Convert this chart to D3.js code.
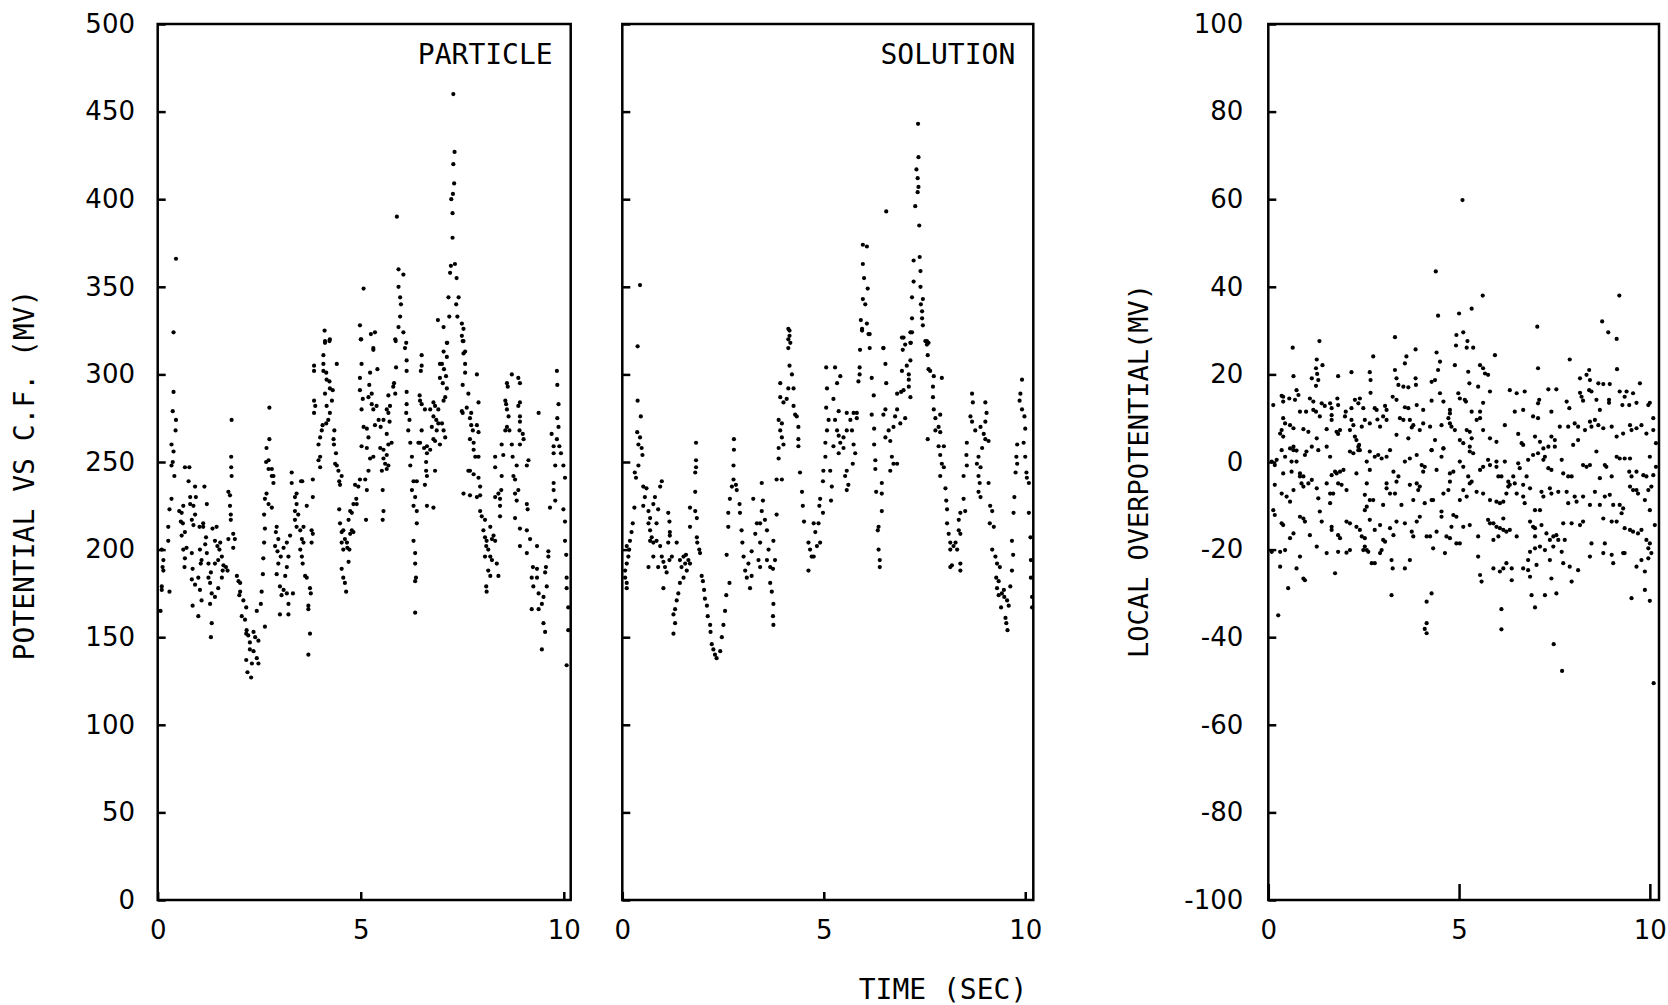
<!DOCTYPE html>
<html>
<head>
<meta charset="utf-8">
<script src="https://cdn.jsdelivr.net/npm/d3@7"></script>
<style>
  body { margin: 0; background: #fff; }
  .frame { fill: none; stroke: #000; stroke-width: 2.5; }
  .tick line { stroke: #000; stroke-width: 2.5; }
  .tick text { font-family: "DejaVu Sans", sans-serif; font-size: 26px; fill: #000; }
  .label { font-family: "DejaVu Sans Mono", monospace; font-size: 28px; fill: #000; }
  .dot { fill: #000; }
</style>
</head>
<body>
<div class="container"></div>
<script>
const WIDTH = 1668;
const HEIGHT = 1005;
const TOP = 24;
const BOTTOM = 900;

var potentialTicks = [0, 50, 100, 150, 200, 250, 300, 350, 400, 450, 500];
var overpotTicks = [-100, -80, -60, -40, -20, 0, 20, 40, 60, 80, 100];
var timeTicks = [0, 5, 10];

// [time (s), potential vs C.F. (mV)]
var particlePts = [
  [7.28,460],[7.31,427],[7.28,420],[7.30,409],[7.27,403],[7.23,400],[7.26,392],[7.26,378],[7.22,362],[7.32,363],[7.20,358],[7.36,355],[7.16,344],[7.41,344],[7.35,340],[7.18,333],[7.38,333],[6.90,331],[7.04,327],[7.49,329],[7.53,326],[7.12,318],[7.53,319],
  [5.89,390],[5.93,360],[6.05,357],[5.93,350],[5.97,344],[5.99,340],[5.97,333],[5.93,327],[6.05,324],[5.86,319],[6.09,315],
  [5.07,349],[4.98,328],[5.25,323],[5.35,324],[5.01,320],[4.11,325],[4.12,318],[4.23,319],[5.31,315],[0.45,366],[0.39,324],
  [0.14,194],[0.14,188],[0.12,190],[0.10,200],[0.10,177],[0.29,176],[0.07,165],[0.26,205],[0.10,179],
  [0.39,290],[0.37,279],[0.45,274],[0.44,268],[0.34,260],[0.39,256],[0.34,248],[0.37,250],[0.41,242],[0.34,229],[0.29,223],[0.26,213],
  [0.53,222],[0.59,221],[0.57,216],[0.62,215],[0.67,210],[0.59,208],[0.63,225],[0.78,247],[0.67,247],[0.76,239],[0.80,230],[0.80,226],[0.88,225],[0.84,217],[0.88,214],[0.63,200],[0.71,201],[0.67,195],[0.84,198],[0.66,190],[0.86,189],[0.84,183],
  [0.92,236],[0.94,230],[0.92,220],[1.03,213],[1.12,215],[1.15,236],[1.12,213],[1.04,200],[1.08,194],[1.06,192],[1.00,184],[0.92,180],[1.04,177],[1.08,171],[0.86,168],[1.00,162],
  [1.21,226],[1.19,207],[1.17,203],[1.21,198],[1.25,192],[1.31,187],[1.25,184],[1.29,181],[1.33,175],[1.29,169],[1.33,158],[1.31,150],[1.35,212],[1.41,205],[1.45,213],[1.47,202],[1.54,204],[1.52,200],[1.58,196],[1.49,194],[1.41,192],[1.60,188],[1.58,184],[1.49,178],[1.41,173],[1.62,191],[1.68,190],[1.72,188],
  [1.74,233],[1.78,231],[1.78,225],[1.80,220],[1.80,217],[1.81,253],[1.81,247],[1.82,242],[1.82,274],[1.74,206],[1.90,206],[1.86,209],[1.86,201],
  [1.95,185],[1.99,182],[2.03,181],[2.03,176],[2.01,174],[2.11,171],[2.18,167],[2.07,162],[2.15,160],[2.19,154],[2.18,152],[2.23,151],[2.36,153],[2.40,150],[2.27,147],[2.27,143],[2.36,142],[2.18,137],[2.32,135],[2.44,138],[2.48,135],[2.21,130],[2.30,127],[2.48,148],
  [2.64,156],[2.54,169],[2.44,165],[2.56,176],[2.59,186],[2.60,195],[2.62,204],[2.64,212],[2.62,220],[2.64,229],[2.73,246],[2.73,251],[2.68,258],[2.75,263],[2.75,281],[2.67,250],[2.81,246],[2.81,242],[2.85,238],[2.68,232],[2.73,226],[2.81,224],[2.85,242],
  [2.93,213],[2.91,210],[2.97,206],[2.89,202],[2.95,199],[3.03,196],[2.97,192],[2.93,186],[3.14,185],[3.18,190],[3.22,196],[3.10,201],[3.18,204],[3.26,208],[3.01,179],[3.10,177],[3.05,174],[3.18,175],[3.01,163],[3.22,163],
  [3.30,244],[3.30,238],[3.38,230],[3.42,232],[3.42,226],[3.38,222],[3.46,220],[3.38,217],[3.42,213],[3.51,211],[3.59,213],[3.55,206],[3.59,204],[3.51,200],[3.55,196],[3.57,192],[3.63,185],[3.67,184],[3.75,178],[3.77,175],[3.71,168],[3.71,166],[3.75,152],[3.71,140],[3.33,175],[3.22,169],[3.53,239],[3.56,239],[3.67,225],[3.79,211],[3.82,209],[3.79,204],[3.82,240],[3.82,230],
  [3.85,305],[3.85,302],[3.85,285],[3.88,282],[3.85,278],[4.08,311],[4.08,306],[4.08,302],[4.15,301],[4.16,297],[4.23,296],[4.24,292],[4.31,291],[4.12,289],[4.29,285],[4.16,282],[4.24,278],[4.20,274],[4.15,272],[4.04,268],[4.06,271],[4.00,264],[3.96,260],[4.00,253],[4.00,247],[3.96,251],[4.12,319],[4.24,320],
  [4.35,268],[4.33,263],[4.34,260],[4.39,255],[4.37,249],[4.41,248],[4.45,245],[4.47,239],[4.49,237],[4.41,306],[4.53,242],
  [4.47,223],[4.49,215],[4.53,210],[4.57,211],[4.53,204],[4.61,206],[4.66,204],[4.57,200],[4.67,201],[4.72,200],[4.74,209],[4.78,211],[4.82,210],[4.78,221],[4.74,222],[4.70,217],[4.82,226],[4.90,226],[4.89,229],[4.94,236],[4.53,189],[4.57,184],[4.61,181],[4.64,176],[4.70,193],[4.86,237],[4.98,240],[5.11,240],[5.15,234],[5.13,217],
  [5.00,320],[5.02,306],[4.98,298],[4.98,291],[5.05,286],[5.02,280],[5.07,270],[5.15,269],[5.02,259],[5.15,258],[5.23,301],[5.21,294],[5.19,287],[5.27,289],[5.27,283],[5.31,280],[5.19,264],[5.23,252],[5.31,253],[5.35,271],[5.41,303],[5.39,282],[5.44,274],[5.49,270],[5.48,258],[5.56,257],[5.56,252],[5.64,254],[5.68,260],[5.76,261],[5.60,249],[5.64,246],[5.68,248],[5.52,245],[5.31,314],[5.19,245],[5.64,280],[5.68,278],[5.72,282],[5.64,266],[5.71,273],[5.68,288],[5.56,274],[5.54,234],[5.56,222],[5.54,217],
  [5.85,320],[5.87,304],[5.82,295],[5.85,289],[5.80,293],[6.12,318],[6.13,308],[6.13,302],[6.13,290],[6.13,283],[6.12,278],[6.20,274],[6.17,268],[6.22,261],[6.26,253],[6.22,248],[6.30,239],[6.38,239],[6.26,234],[6.34,230],[6.30,225],[6.38,222],[6.38,215],[6.30,205],[6.34,198],[6.34,192],[6.36,184],[6.34,182],[6.34,164],[6.46,261],[6.50,268],
  [6.50,311],[6.50,305],[6.48,302],[6.45,288],[6.46,285],[6.50,283],[6.58,280],[6.42,261],[6.56,258],[6.63,259],[6.63,255],[6.71,257],[6.61,250],[6.61,245],[6.63,242],[6.58,237],[6.63,225],[6.79,224],[6.71,280],[6.79,276],[6.86,274],[6.83,282],[6.91,280],[6.91,272],[6.87,268],[6.79,263],[6.83,262],[6.83,245],[6.75,270],[7.00,272],[7.04,268],[6.95,260],[7.08,264],[7.08,287],[7.04,285],[6.95,298],[7.02,295],[6.95,306],[7.04,313],[7.13,318],[7.12,310],[7.05,303],[7.12,292],[7.10,299],[6.79,284],[7.00,306],
  [7.49,322],[7.51,319],[7.57,313],[7.53,312],[7.57,306],[7.57,301],[7.51,294],[7.49,279],[7.51,278],[7.61,281],[7.65,289],[7.72,278],[7.69,275],[7.72,271],[7.76,268],[7.69,263],[7.78,261],[7.86,300],[7.90,284],[7.86,271],[7.90,267],[7.78,257],[7.82,253],[7.90,253],[7.65,245],[7.69,245],[7.78,243],[7.90,241],[7.94,236],[7.94,231],[7.53,232],[7.69,231],[7.86,230],
  [7.94,222],[7.98,219],[8.06,217],[8.02,211],[8.06,207],[8.10,205],[8.09,202],[8.06,196],[8.14,200],[8.19,213],[8.23,206],[8.27,208],[8.31,205],[8.19,196],[8.23,194],[8.14,188],[8.19,185],[8.39,185],[8.09,179],[8.10,176],[8.35,192],
  [8.31,230],[8.39,232],[8.43,229],[8.46,234],[8.47,242],[8.31,247],[8.31,253],[8.51,254],[8.43,225],[8.43,219],[8.47,260],[8.56,268],[8.60,270],[8.66,268],[8.64,276],[8.60,280],[8.58,283],[8.56,285],[8.60,295],[8.62,293],[8.72,300],[8.88,298],[8.92,295],[8.92,284],[8.88,282],[8.92,276],[8.92,273],[8.91,268],[8.99,266],[9.01,263],[8.92,260],[8.72,260],[8.74,253],[8.84,248],[8.76,242],[8.80,240],[8.80,232],[8.84,228],[8.88,234],[9.09,248],[9.13,251],[9.09,226],[9.11,223],[8.80,218],[8.92,212],[9.09,211],[9.17,206],[8.92,202],[9.09,198],[9.34,202],
  [9.24,190],[9.34,189],[9.21,184],[9.34,184],[9.25,179],[9.38,175],[9.50,173],[9.46,169],[9.21,166],[9.38,166],[9.50,158],[9.54,153],[9.46,143],[9.58,179],[9.62,196],[9.62,199],[9.56,190],[9.54,187],[9.38,278],
  [9.83,302],[9.84,294],[9.87,283],[9.84,275],[9.87,270],[9.70,266],[9.83,263],[9.75,259],[9.89,259],[9.93,255],[9.75,255],[9.79,248],[9.99,248],[10.03,241],[9.75,238],[9.75,234],[9.79,228],[9.66,224],[9.99,223],[10.03,216],[10.03,205],[10.06,197],[10.07,184],[10.07,178],[10.11,167],[10.11,154],[10.07,134]
];

// [time (s), potential vs C.F. (mV)]
var solutionPts = [
  [7.34,443],[7.35,424],[7.30,417],[7.33,412],[7.35,407],[7.33,404],[7.27,396],[7.37,385],[6.55,393],[5.97,374],[6.07,373],[5.97,363],[6.00,355],[6.09,349],[5.97,343],[6.03,340],[5.92,331],[6.07,329],[5.95,326],[6.14,323],[7.23,365],[7.38,367],[7.40,359],[7.23,353],[7.40,350],[7.19,344],[7.46,343],[7.41,340],[7.44,336],[7.19,332],[7.44,332],[7.46,328],[7.15,324],[6.94,321],[7.02,317],[7.15,318],[7.56,319],[7.60,318],[6.48,315],[0.44,351],[4.12,326],[4.15,322],[4.17,318],
  [0.38,316],[0.38,285],[0.46,276],[0.37,267],[0.44,264],[0.40,260],[0.48,258],[0.50,254],[0.40,248],[0.31,244],[0.34,241],[0.30,224],[0.26,215],[0.23,210],[0.19,205],[0.17,200],[0.11,202],[0.15,196],[0.11,192],[0.07,184],[0.11,181],[0.11,178],[0.07,188],
  [0.52,236],[0.60,235],[0.56,230],[0.52,225],[0.65,222],[0.77,226],[0.81,230],[0.94,236],[0.98,239],[0.89,223],[0.85,215],[0.69,218],[0.65,215],[0.69,211],[0.73,207],[0.69,205],[0.77,204],[0.85,205],[0.94,202],[0.98,196],
  [1.14,221],[1.17,216],[1.18,210],[1.18,208],[1.14,204],[1.02,193],[1.06,190],[1.10,187],[1.17,194],[1.23,196],[1.02,178],[0.89,190],[0.65,190],[0.77,196],
  [1.35,204],[1.43,194],[1.52,196],[1.58,197],[1.64,194],[1.56,192],[1.47,190],[1.60,188],[1.68,192],[1.52,184],[1.43,181],[1.39,175],[1.35,171],[1.31,166],[1.27,163],[1.31,158],[1.27,152],[1.68,224],[1.81,222],[1.68,213],[1.85,218],[1.81,233],[1.81,244],[1.83,247],[1.83,251],[1.83,261],
  [1.85,207],[1.86,204],[1.91,200],[1.93,198],[1.97,185],[2.00,182],[2.03,177],[2.05,172],[2.10,168],[2.12,162],[2.18,157],[2.19,153],[2.22,146],[2.26,143],[2.30,140],[2.34,138],[2.43,142],[2.47,150],[2.51,157],[2.55,165],[2.58,174],[2.66,181],[2.59,197],[2.63,213],[2.63,221],[2.67,229],[2.72,236],[2.76,240],[2.76,248],[2.77,257],[2.77,263],
  [2.82,237],[2.84,234],[2.91,226],[2.92,221],[2.96,211],[2.98,204],[3.01,196],[3.05,188],[3.09,184],[3.17,178],[3.13,192],[3.21,185],[3.21,199],[3.25,229],[3.34,215],[3.30,209],[3.42,215],[3.42,204],[3.38,194],[3.42,190],[3.46,238],[3.49,228],[3.46,222],[3.54,217],[3.59,211],[3.63,200],[3.59,194],[3.67,190],[3.74,189],[3.75,205],[3.79,194],[3.67,181],[3.71,176],[3.75,169],[3.74,162],[3.75,157],
  [3.83,220],[3.83,240],[3.96,240],[3.88,252],[3.88,258],[4.00,260],[3.92,268],[3.96,272],[3.88,274],[3.96,264],[3.92,287],[3.92,295],[4.00,284],
  [4.15,305],[4.12,315],[4.15,325],[4.12,320],[4.21,300],[4.12,292],[4.25,292],[4.08,286],[4.25,282],[4.29,277],[4.37,270],[4.37,263],[4.37,259],[4.33,276],[4.41,244],[4.46,233],[4.48,225],[4.51,216],[4.62,204],[4.66,200],[4.70,196],[4.62,188],[4.83,202],[4.91,204],[4.79,210],[4.87,215],[4.89,225],[4.98,221],[4.91,229],[4.75,196],[4.75,215],
  [5.06,304],[5.28,304],[5.08,292],[5.33,295],[5.41,299],[5.24,286],[5.06,281],[5.08,268],[5.12,274],[5.04,261],[5.04,253],[4.99,245],[4.98,239],[5.16,245],[5.20,236],[5.18,228],[5.37,279],[5.28,274],[5.33,268],[5.37,265],[5.41,261],[5.49,264],[5.57,268],[5.24,259],[5.37,255],[5.49,258],[5.57,278],[5.66,274],[5.70,268],[5.74,260],[5.78,255],[5.72,249],[5.74,278],[5.82,278],[5.82,275],[5.57,245],[5.53,242],[5.61,237],[5.57,234],
  [5.89,304],[5.89,300],[5.86,296],[5.90,314],[5.95,325],[6.11,323],[6.14,315],[6.19,298],[6.24,288],[6.19,277],[6.25,269],[6.25,260],[6.28,251],[6.28,246],[6.30,233],[6.44,232],[6.44,238],[6.44,222],[6.36,213],[6.34,211],[6.36,200],[6.39,194],[6.39,190],
  [6.48,315],[6.53,306],[6.55,295],[6.53,280],[6.48,277],[6.53,264],[6.61,268],[6.65,262],[6.69,253],[6.73,249],[6.82,249],[6.65,245],[6.73,270],[6.77,276],[6.82,280],[6.90,272],[7.02,275],[6.92,290],[6.82,289],[6.98,291],[7.11,293],[7.15,287],[7.11,297],[6.94,302],[7.06,305],[6.96,314],[6.98,321],[7.16,318],[7.19,324],[7.15,308],[7.11,300],
  [7.52,319],[7.56,317],[7.58,311],[7.60,303],[7.64,302],[7.73,299],[7.93,298],[7.71,293],[7.71,287],[7.58,263],[7.73,280],[7.77,275],[7.89,277],[7.85,270],[7.89,267],[7.77,268],[7.85,259],[7.98,259],[7.89,254],[7.93,249],[7.98,247],[7.89,242],[8.02,235],[8.04,228],[8.06,223],[8.06,215],[8.10,209],[8.14,204],[8.14,200],[8.18,191],[8.22,202],[8.31,200],[8.27,204],[8.35,211],[8.39,209],[8.39,192],[8.35,217],[8.39,221],[8.47,229],[8.51,222],[8.47,242],[8.55,248],[8.54,254],[8.55,261],[8.39,188],[8.14,190],
  [8.68,289],[8.70,284],[8.64,276],[8.68,273],[8.76,268],[8.89,270],[9.01,284],[9.04,278],[9.01,273],[8.97,266],[9.01,263],[9.09,262],[8.93,258],[8.84,253],[8.80,249],[8.89,247],[8.84,242],[8.87,238],[8.84,233],[8.89,230],[9.09,238],[9.13,225],[9.18,222],[9.12,215],[9.22,213],[9.18,200],[9.26,196],[9.30,192],[9.37,190],[9.28,184],[9.34,182],[9.30,178],[9.34,174],[9.42,175],[9.47,177],[9.48,173],[9.55,171],[9.59,168],[9.40,167],[9.51,161],[9.53,158],[9.56,154],[9.63,179],[9.67,188],[9.70,197],[9.67,205],[9.71,221],[9.73,230],[9.76,244],[9.80,249],[9.78,253],[9.80,260],[9.86,285],[9.88,289],[9.92,297],[9.92,280],[9.98,276],[10.00,269],[9.96,261],[10.00,253],[10.03,244],[10.04,241],[10.09,238],[10.09,221],[10.13,207],[10.14,194],[10.14,184],[10.17,173],[10.17,167]
];

// [time (s), local overpotential (mV)]
var overpotPts = [
  [5.09,59.8],[4.39,43.5],[5.62,38.0],[9.20,38.0],[4.45,33.4],[5.00,33.9],[5.33,35.0],[7.05,30.9],[8.75,32.1],[8.91,29.6],[9.13,28.1],[1.34,27.6],[3.32,28.5],[4.93,29.0],[5.11,29.6],[5.22,27.6],[4.92,26.6],[5.20,26.1],[5.37,26.1],[0.64,26.1],[3.86,25.7],
  [3.62,24.1],[2.75,24.1],[3.58,22.5],[4.41,25.0],[4.50,22.9],[4.45,21.0],[4.37,18.7],[4.28,18.3],[5.94,24.4],[7.90,23.4],[4.89,22.1],[5.55,22.1],[5.63,21.4],[5.68,20.2],[5.76,19.9],[5.24,20.6],[5.50,17.2],[5.27,17.96],[1.27,23.4],[1.42,22.1],[1.25,21.4],[1.28,20.1],[1.31,18.7],[1.14,19.1],[1.25,17.4],[0.66,19.6],[1.83,19.6],[2.18,20.5],[2.66,20.5],[2.68,18.7],[3.32,21.0],[3.36,19.1],[3.41,17.6],[3.54,17.2],[3.67,17.05],[3.86,19.1],[3.87,17.6],[7.07,21.4],[8.41,21.0],[8.34,19.9],[8.43,18.7],[8.17,19.1],[8.65,17.96],[8.78,17.8],[8.95,17.8],[9.14,21.2],[9.74,17.96],
  [0.35,15.1],[0.39,14.9],[0.39,13.8],[0.55,14.5],[0.70,14.2],[0.79,15.3],[0.74,16.4],[0.13,13.0],[1.09,14.5],[1.18,13.8],[1.40,13.4],[1.48,12.8],[1.62,13.4],[1.66,12.3],[1.81,14.5],[1.83,13.0],[0.99,11.5],[1.18,11.9],[1.25,11.5],[0.83,11.5],[2.03,11.5],[2.18,12.3],[2.27,14.2],[2.36,13.4],[2.40,14.5],[2.68,15.8],[2.49,12.3],[2.79,12.3],[2.84,11.9],[3.10,11.9],[3.06,12.8],[3.26,14.9],[3.36,14.2],[3.58,12.5],[3.67,12.3],[3.89,13.0],[4.06,11.9],[4.28,14.0],[4.50,15.7],[4.59,13.8],[4.76,11.9],[4.76,11.1],[4.98,15.7],[5.02,14.5],[5.15,14.2],[5.18,13.8],[5.33,11.5],[5.55,11.5],[5.63,13.5],[5.81,16.1],[6.33,16.4],[6.51,15.7],[6.72,16.1],[6.46,11.5],[6.68,11.9],[7.10,14.2],[7.07,13.4],[7.34,16.6],[7.55,16.6],[7.42,11.5],[7.82,13.8],[7.89,12.3],[8.21,14.9],[8.25,14.0],[8.17,15.8],[8.41,16.4],[8.47,16.1],[8.60,14.2],[8.69,11.9],[8.93,14.2],[8.93,13.5],[9.21,16.1],[9.39,16.1],[9.34,14.9],[9.28,13.0],[9.46,13.0],[9.56,15.7],[9.65,13.5],[9.96,13.0],[10.0,13.5],
  [0.39,10.0],[0.44,8.8],[0.35,7.3],[0.57,8.4],[0.66,7.7],[0.31,6.5],[0.39,5.8],[0.57,3.1],[0.66,3.5],[0.74,2.6],[0.92,7.5],[1.05,6.9],[1.27,5.4],[1.35,10.4],[1.53,7.5],[1.66,10.7],[1.66,9.6],[1.79,6.9],[1.88,7.3],[1.83,6.4],[2.01,10.4],[2.18,9.6],[2.23,8.4],[2.14,7.3],[2.27,5.8],[2.31,5.0],[2.38,3.9],[2.36,2.7],[2.45,8.07],[2.53,9.6],[2.66,8.8],[2.66,2.4],[2.86,9.7],[2.93,8.07],[3.01,10.4],[3.10,9.6],[3.36,6.2],[3.45,10.0],[3.54,9.6],[3.67,5.4],[3.71,9.6],[3.76,7.9],[3.80,8.4],[4.06,8.8],[3.97,7.3],[4.24,8.07],[4.28,2.7],[4.37,5.0],[4.54,8.4],[4.59,3.1],[4.72,10.0],[4.76,8.8],[4.80,8.07],[4.89,7.3],[5.02,5.0],[5.11,4.3],[5.20,7.3],[5.28,6.9],[5.33,5.4],[5.28,3.5],[5.46,9.6],[5.55,10.0],[5.63,7.3],[5.81,5.4],[5.98,4.6],[6.20,8.4],[6.55,6.4],[6.64,4.3],[6.68,3.9],[6.99,5.8],[7.07,10.0],[6.94,10.4],[7.12,4.6],[7.21,3.1],[7.34,3.5],[7.42,5.8],[7.51,5.0],[7.64,8.07],[7.86,8.07],[7.99,3.9],[8.12,5.0],[8.03,8.8],[8.12,8.07],[8.30,7.3],[8.43,9.2],[8.47,8.07],[8.56,9.6],[8.65,8.4],[8.78,7.7],[9.00,8.07],[9.13,5.8],[9.30,6.5],[9.52,7.3],[9.48,8.4],[9.65,7.7],[9.78,8.4],[9.91,6.5],[10.09,7.3],[10.16,4.3],[10.09,10.0],
  [0.09,0.1],[0.22,0.5],[0.17,-0.7],[0.44,1.2],[0.35,2.7],[0.66,2.7],[0.61,0.1],[0.74,0.1],[0.39,-2.6],[0.61,-2.2],[0.83,-2.6],[0.83,-3.3],[0.92,-3.3],[1.00,2.4],[1.14,3.5],[0.96,1.6],[1.31,2.7],[1.53,3.5],[1.62,1.2],[1.66,-3.0],[1.75,-2.2],[1.79,-2.6],[1.88,-2.2],[1.97,-1.8],[2.14,2.4],[2.23,2.0],[2.36,3.5],[2.40,2.7],[2.58,0.1],[2.66,-1.8],[2.79,1.2],[2.88,1.6],[2.97,0.8],[3.10,1.2],[3.19,2.7],[3.28,-2.2],[3.41,-3.3],[3.58,0.1],[3.71,0.8],[3.89,1.6],[4.02,-0.7],[4.10,-1.1],[4.06,-2.2],[4.28,2.7],[4.41,-1.8],[4.54,1.2],[4.59,3.1],[4.76,-2.6],[4.85,-2.2],[5.02,0.1],[5.11,-1.1],[5.24,-3.3],[5.28,2.4],[5.37,2.0],[5.55,-1.8],[5.63,-1.1],[5.76,0.5],[5.81,-0.7],[5.98,-1.1],[6.03,-3.3],[5.98,0.1],[6.20,0.1],[6.11,-3.3],[6.29,-4.5],[6.42,-3.3],[6.55,-0.3],[6.59,-1.4],[6.77,-3.3],[6.81,0.5],[6.94,1.6],[7.07,2.0],[7.21,0.5],[7.25,1.2],[7.34,-1.4],[7.42,-1.8],[7.51,3.5],[7.69,0.5],[7.73,-2.6],[7.86,-3.3],[7.95,-3.3],[8.25,-0.7],[8.34,-1.1],[8.43,-0.7],[8.60,2.4],[8.69,-3.7],[8.82,-0.7],[8.86,-1.1],[9.00,-3.3],[9.13,1.2],[9.21,0.8],[9.34,0.8],[9.48,0.8],[9.46,-2.2],[9.52,-3.3],[9.65,-2.2],[9.83,-3.0],[9.91,-3.3],[10.0,1.2],[10.09,-3.0],[10.16,-1.1],
  [0.17,-5.2],[0.35,-7.2],[0.48,-7.9],[0.57,-9.05],[0.66,-6.4],[0.87,-4.9],[0.92,-5.6],[1.05,-4.9],[1.14,-4.1],[1.27,-6.0],[1.31,-8.3],[1.53,-4.9],[1.62,-7.2],[1.62,-9.4],[1.70,-7.2],[1.83,-4.9],[1.92,-5.2],[2.05,-6.4],[2.31,-2.6],[2.58,-4.9],[2.53,-7.5],[2.58,-10.2],[2.53,-11.0],[2.66,-8.7],[2.75,-8.7],[3.01,-9.8],[3.10,-4.9],[3.10,-6.0],[3.19,-7.2],[3.32,-7.2],[3.49,-9.8],[3.36,-4.5],[3.71,-5.2],[3.80,-8.7],[3.89,-4.9],[3.93,-6.4],[3.97,-5.6],[4.10,-9.4],[4.28,-8.7],[4.32,-8.7],[4.54,-11.3],[4.59,-7.2],[4.72,-6.4],[4.76,-4.5],[5.02,-8.7],[5.11,-6.4],[5.20,-7.9],[5.28,-4.9],[5.33,-4.5],[5.46,-6.8],[5.63,-7.2],[5.81,-8.7],[5.98,-9.05],[6.07,-9.4],[6.16,-9.05],[6.24,-7.2],[6.29,-5.6],[6.33,-5.2],[6.46,-4.9],[6.51,-7.2],[6.68,-5.2],[6.68,-7.9],[6.72,-9.4],[6.86,-6.0],[6.99,-11.0],[7.12,-11.0],[7.16,-6.8],[7.21,-7.9],[7.38,-6.0],[7.42,-7.2],[7.60,-6.8],[7.82,-6.8],[7.86,-9.4],[8.03,-7.9],[8.08,-9.05],[8.25,-7.9],[8.43,-9.8],[8.56,-6.8],[8.69,-9.8],[8.82,-7.9],[8.95,-7.5],[9.04,-9.8],[9.21,-9.8],[9.30,-10.6],[9.48,-5.6],[9.56,-6.4],[9.65,-6.4],[9.69,-7.2],[9.87,-8.7],[9.96,-6.4],[10.04,-5.6],[10.0,-11.0],
  [0.13,-11.0],[0.17,-12.1],[0.35,-14.0],[0.39,-14.4],[0.57,-17.4],[0.66,-16.3],[0.83,-12.5],[0.92,-12.9],[0.96,-13.6],[1.09,-16.7],[1.35,-11.3],[1.40,-13.6],[1.66,-14.8],[1.83,-16.7],[1.88,-17.4],[1.66,-15.5],[2.05,-13.6],[2.14,-14.0],[2.31,-14.8],[2.40,-15.5],[2.45,-17.0],[2.53,-17.4],[2.53,-19.3],[2.58,-20.1],[2.66,-13.2],[2.79,-15.5],[2.93,-14.4],[3.01,-17.8],[3.06,-18.2],[3.19,-15.1],[3.28,-16.7],[3.36,-13.6],[3.58,-14.0],[3.76,-15.9],[3.80,-17.0],[3.89,-13.6],[3.97,-12.5],[4.15,-17.0],[4.24,-17.0],[4.41,-15.9],[4.54,-12.5],[4.67,-17.0],[4.76,-17.4],[4.80,-14.8],[4.85,-12.1],[4.93,-12.5],[5.02,-18.6],[5.11,-14.8],[5.28,-14.4],[5.50,-17.0],[5.76,-13.2],[5.81,-14.0],[5.90,-14.0],[5.98,-14.8],[6.07,-15.1],[6.16,-15.5],[6.24,-15.9],[6.33,-15.5],[6.51,-17.0],[6.16,-12.9],[6.03,-17.0],[5.90,-17.8],[6.86,-13.6],[6.94,-14.8],[6.99,-15.1],[7.16,-14.4],[6.99,-17.0],[7.29,-16.3],[7.38,-17.8],[7.47,-17.0],[7.55,-16.7],[7.60,-17.8],[7.73,-14.0],[7.77,-17.8],[7.95,-14.0],[8.17,-14.4],[8.25,-13.6],[8.47,-18.6],[8.78,-12.9],[8.82,-18.6],[9.00,-13.6],[9.13,-13.6],[9.26,-11.7],[9.34,-15.1],[9.48,-15.5],[9.56,-15.9],[9.69,-16.3],[9.78,-15.5],[9.91,-17.8],[10.0,-18.6],[10.13,-14.4],
  [0.09,-20.5],[0.31,-20.5],[0.44,-20.1],[0.31,-23.9],[0.52,-28.8],[0.74,-24.3],[0.83,-21.6],[0.92,-26.6],[0.96,-27.0],[1.27,-19.3],[1.53,-20.8],[1.75,-25.4],[1.83,-20.5],[2.05,-20.7],[2.14,-20.1],[2.49,-20.1],[2.62,-20.5],[2.71,-23.1],[2.79,-23.1],[2.93,-20.8],[2.97,-20.1],[3.23,-22.4],[3.26,-24.3],[3.23,-30.4],[3.58,-24.3],[3.71,-22.4],[4.28,-30.0],[4.32,-19.7],[4.63,-20.8],[4.93,-18.6],[5.50,-21.6],[5.55,-25.8],[5.59,-27.3],[5.90,-24.3],[6.16,-24.3],[6.24,-23.1],[6.38,-24.3],[6.07,-25.0],[6.38,-27.0],[6.68,-24.3],[6.81,-24.7],[6.86,-26.2],[6.81,-22.4],[7.03,-23.5],[6.86,-20.5],[6.99,-19.7],[7.12,-19.3],[7.25,-20.1],[7.38,-22.4],[7.42,-26.6],[7.47,-19.3],[7.69,-20.5],[7.73,-23.1],[7.90,-23.9],[7.95,-27.3],[8.12,-24.7],[8.43,-21.6],[8.78,-20.8],[9.00,-21.2],[9.04,-23.1],[9.30,-20.8],[9.65,-23.9],[9.78,-22.4],[9.87,-25.0],[9.96,-22.0],[10.04,-20.8],[9.96,-19.7],[9.87,-29.2],[9.52,-31.1],[10.0,-31.7],[9.34,-20.8],
  [0.26,-35.0],[4.15,-31.9],[4.15,-36.8],[4.10,-38.1],[4.15,-39.1],[6.11,-33.6],[6.11,-38.2],[6.90,-30.4],[7.25,-30.4],[7.55,-30.0],[6.99,-33.2],[7.48,-41.6],[7.70,-47.7],[10.1,-50.5]
];

var panels = [
  { pts: particlePts, left: 157.7, right: 570.7, xMax: 10.17, yDomain: [0, 500], yTicks: potentialTicks, yLabels: true, pad: 22.7, xTick: 8, title: "PARTICLE" },
  { pts: solutionPts, left: 622.3, right: 1033.3, xMax: 10.2, yDomain: [0, 500], yTicks: potentialTicks, yLabels: false, pad: 22.7, xTick: 8, title: "SOLUTION" },
  { pts: overpotPts, left: 1268.3, right: 1659, xMax: 10.24, yDomain: [-100, 100], yTicks: overpotTicks, yLabels: true, pad: 25, xTick: 16, title: null }
];

var svg = d3.select('.container').append('svg')
  .attr('width', WIDTH)
  .attr('height', HEIGHT);

var drawPanel = function(p) {
  var x = d3.scaleLinear().domain([0, p.xMax]).range([p.left, p.right]);
  var y = d3.scaleLinear().domain(p.yDomain).range([BOTTOM, TOP]);

  var yAxis = d3.axisLeft(y)
    .tickValues(p.yTicks)
    .tickSize(-8)
    .tickPadding(p.pad)
    .tickFormat(p.yLabels ? (d) => String(d).replace('\u2212', '-') : '');

  svg.append('g')
    .attr('transform', `translate(${p.left},0)`)
    .call(yAxis)
    .call(g => g.select('.domain').remove());

  var xAxis = d3.axisBottom(x)
    .tickValues(timeTicks)
    .tickSize(-p.xTick)
    .tickPadding(21);

  var xg = svg.append('g')
    .attr('transform', `translate(0,${BOTTOM})`)
    .call(xAxis)
    .call(g => g.select('.domain').remove());
  xg.selectAll('.tick text').attr('dy', '0.71em');

  svg.append('rect')
    .classed('frame', true)
    .attr('x', p.left)
    .attr('y', TOP)
    .attr('width', p.right - p.left)
    .attr('height', BOTTOM - TOP);

  svg.append('g').selectAll('circle').data(p.pts).enter()
    .append('circle')
    .classed('dot', true)
    .attr('cx', (d) => x(d[0]))
    .attr('cy', (d) => y(d[1]))
    .attr('r', 2.1);

  if (p.title) {
    svg.append('text')
      .classed('label', true)
      .attr('x', p.right - 18)
      .attr('y', 64)
      .attr('text-anchor', 'end')
      .text(p.title);
  }
};

panels.forEach(drawPanel);

svg.append('text')
  .classed('label', true)
  .attr('transform', 'translate(24,475) rotate(-90)')
  .attr('text-anchor', 'middle')
  .attr('dominant-baseline', 'central')
  .text('POTENTIAL VS C.F. (MV)');

svg.append('text')
  .classed('label', true)
  .attr('transform', 'translate(1138,471) rotate(-90)')
  .attr('text-anchor', 'middle')
  .attr('dominant-baseline', 'central')
  .style('font-size', '27px')
  .text('LOCAL OVERPOTENTIAL(MV)');

svg.append('text')
  .classed('label', true)
  .attr('x', 943)
  .attr('y', 999)
  .attr('text-anchor', 'middle')
  .text('TIME (SEC)');
</script>
</body>
</html>
